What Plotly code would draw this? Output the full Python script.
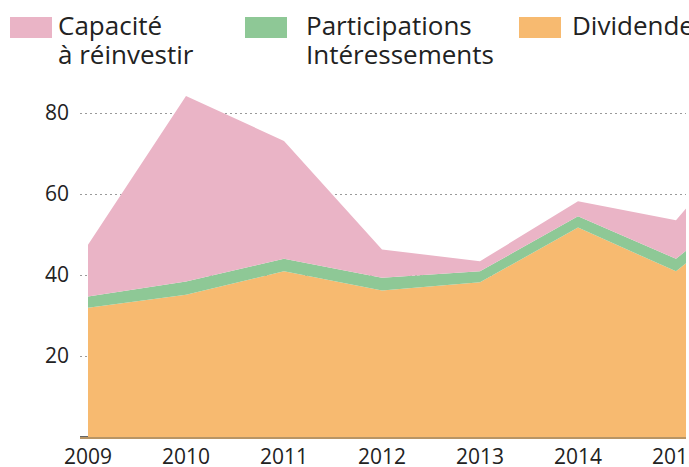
import plotly.graph_objects as go

# ---- data ----
years = [2009, 2010, 2011, 2012, 2013, 2014, 2015, 2016]
dividendes = [31.9, 35.1, 40.9, 36.2, 38.2, 51.7, 40.9, 60.4]
participations = [2.8, 3.3, 3.1, 3.1, 2.7, 2.8, 3.1, 3.0]
capacite = [12.8, 45.8, 29.1, 7.0, 2.5, 3.7, 9.5, 19.0]

y_ticks = [20, 40, 60, 80]
x_ticks = [2009, 2010, 2011, 2012, 2013, 2014, 2015]

legend_labels = [
    ("Capacité", "à réinvestir"),
    ("Participations", "Intéressements"),
    ("Dividendes", ""),
]

# ---- styling ----
C_PINK = "#eab4c6"
C_GREEN = "#8ec896"
C_ORANGE = "#f7ba70"
FONT = "Open Sans"
TXT = "#222222"

W, H = 689, 467
ML, MR, MT, MB = 80, 3, 90, 30
PW = W - ML - MR
PH = H - MT - MB
X0 = 2009 - 8 / 98
X1 = 2015 + 10 / 98


def px_x(px):
    return (px - ML) / PW


def px_y(py):
    return (H - MB - py) / PH


fig = go.Figure()
series = [
    ("Dividendes", dividendes, C_ORANGE),
    ("Participations Intéressements", participations, C_GREEN),
    ("Capacité à réinvestir", capacite, C_PINK),
]
for name, vals, col in series:
    fig.add_trace(go.Scatter(
        x=years, y=vals, name=name, mode="lines",
        stackgroup="one", line=dict(width=0, color=col),
        fillcolor=col, showlegend=False, hoverinfo="skip",
    ))

# custom legend (swatches + two-line labels)
swatch_left = [10, 245, 519]
text_left = [56, 304, 570]
swatch_cols = [C_PINK, C_GREEN, C_ORANGE]
shapes = []
annotations = []
for i, (l1, l2) in enumerate(legend_labels):
    shapes.append(dict(
        type="rect", xref="paper", yref="paper",
        x0=px_x(swatch_left[i]), x1=px_x(swatch_left[i] + 42),
        y0=px_y(38), y1=px_y(17),
        fillcolor=swatch_cols[i], line=dict(width=0), layer="above",
    ))
    for txt, cy in ((l1, 25), (l2, 54)):
        if not txt:
            continue
        annotations.append(dict(
            text=txt, xref="paper", yref="paper",
            x=px_x(text_left[i]), y=px_y(cy),
            xanchor="left", yanchor="middle", showarrow=False,
            font=dict(family=FONT, size=26, color=TXT),
        ))

# short dark axis segment left of the first year
shapes.append(dict(
    type="line", xref="paper", yref="y",
    x0=0, x1=(years[0] - X0) / (X1 - X0), y0=0, y1=0,
    line=dict(color="#333333", width=1.5), layer="above",
))

fig.update_layout(
    width=W, height=H,
    margin=dict(l=ML, r=MR, t=MT, b=MB, pad=0, autoexpand=False),
    paper_bgcolor="white", plot_bgcolor="white",
    showlegend=False,
    shapes=shapes, annotations=annotations,
    font=dict(family=FONT, color=TXT),
)
fig.update_xaxes(
    range=[X0, X1], automargin=False,
    tickmode="array", tickvals=x_ticks, ticktext=[str(v) for v in x_ticks],
    tickfont=dict(family=FONT, size=21, color=TXT),
    showgrid=False, zeroline=False,
    showline=True, linecolor="#b89565", linewidth=1.5,
    ticks="", ticklabelstandoff=0, ticklabeloverflow="allow",
)
fig.update_yaxes(
    range=[0, (H - MB - MT) / 4.05], automargin=False,
    tickmode="array", tickvals=y_ticks, ticktext=[str(v) for v in y_ticks],
    tickfont=dict(family=FONT, size=21, color=TXT),
    showgrid=True, gridcolor="#9a9a9a", gridwidth=1, griddash="2px,3px",
    zeroline=False, showline=False, ticks="", ticklabelstandoff=10,
)

fig.write_html("out.html")
